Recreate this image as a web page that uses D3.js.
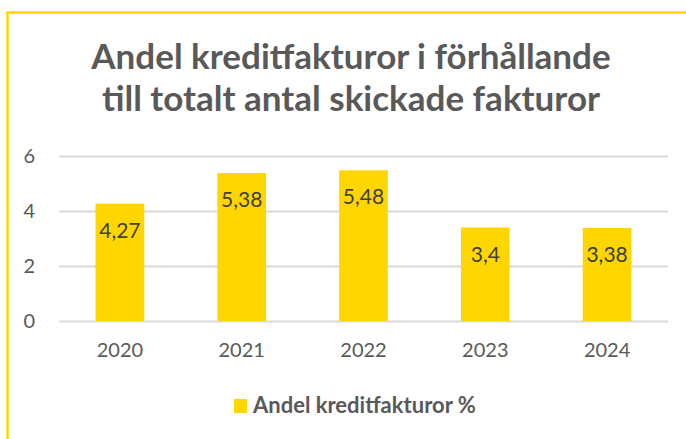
<!DOCTYPE html>
<html>
<head>
<meta charset="utf-8">
<script src="https://cdn.jsdelivr.net/npm/d3@7"></script>
<style>
  body { margin: 0; background: #fff; }
  svg { display: block; }
</style>
</head>
<body>
<div id="chart"></div>
<script>
const years = ["2020", "2021", "2022", "2023", "2024"];
const andel = [4.27, 5.38, 5.48, 3.4, 3.38];
const yTicks = [0, 2, 4, 6];
const titleLines = ["Andel kreditfakturor i förhållande", "till totalt antal skickade fakturor"];
const seriesName = "Andel kreditfakturor %";

const W = 686, H = 439;
const margin = { top: 156, right: 18, bottom: 118, left: 59 };
const width = W - margin.left - margin.right;
const height = H - margin.top - margin.bottom;
const yellow = "#ffd600";
const numFont = "Lato, sans-serif";

const svg = d3.select("#chart").append("svg")
    .attr("width", W)
    .attr("height", H);

// ram
svg.append("path")
    .attr("d", `M7.5,${H + 5}V12.5H${W + 5}`)
    .attr("fill", "none")
    .attr("stroke", yellow)
    .attr("stroke-width", 2.5);

// titel
svg.append("g").selectAll("text")
    .data(titleLines)
    .enter().append("text")
    .attr("x", 351)
    .attr("y", (d, i) => 69 + i * 42)
    .attr("text-anchor", "middle")
    .attr("font-family", "Lato, sans-serif")
    .attr("font-weight", "bold")
    .attr("font-size", 35)
    .attr("fill", "#595959")
    .text(d => d);

const g = svg.append("g")
    .attr("transform", `translate(${margin.left},${margin.top})`);

const x = d3.scaleBand()
    .domain(years)
    .range([0, width])
    .paddingInner(0.6)
    .paddingOuter(0.3);

const y = d3.scaleLinear()
    .domain([0, 6])
    .range([height, 0]);

// rutnät
g.append("g")
    .call(d3.axisLeft(y).tickValues(yTicks).tickFormat(d3.format("d")).tickSize(-width).tickPadding(24))
    .call(s => s.select(".domain").remove())
    .call(s => s.selectAll(".tick line").attr("stroke", "#d9d9d9").attr("stroke-width", 2))
    .call(s => s.selectAll(".tick text")
        .attr("font-family", numFont)
        .attr("font-size", 20)
        .attr("fill", "#595959"));

g.append("g")
    .attr("transform", `translate(0,${height})`)
    .call(d3.axisBottom(x).tickSize(0).tickPadding(22))
    .call(s => s.select(".domain").remove())
    .call(s => s.selectAll(".tick text")
        .attr("font-family", numFont)
        .attr("font-size", 20)
        .attr("fill", "#595959"));

g.selectAll(".bar")
    .data(andel)
    .enter().append("rect")
    .attr("class", "bar")
    .attr("x", (d, i) => x(years[i]))
    .attr("width", x.bandwidth())
    .attr("y", d => y(d))
    .attr("height", d => height - y(d))
    .attr("fill", yellow);

g.selectAll(".label")
    .data(andel)
    .enter().append("text")
    .attr("class", "label")
    .attr("x", (d, i) => x(years[i]) + x.bandwidth() / 2)
    .attr("y", d => y(d) + 34)
    .attr("text-anchor", "middle")
    .attr("font-family", numFont)
    .attr("font-size", 21)
    .attr("fill", "#404040")
    .text(d => String(d).replace(".", ","));

// förklaring
const leg = svg.append("g").attr("transform", "translate(234,399)");
leg.append("rect")
    .attr("width", 13)
    .attr("height", 14)
    .attr("fill", yellow);
leg.append("text")
    .attr("x", 19)
    .attr("y", 14)
    .attr("font-family", "Lato, sans-serif")
    .attr("font-weight", "bold")
    .attr("font-size", 22)
    .attr("fill", "#595959")
    .text(seriesName);
</script>
</body>
</html>
